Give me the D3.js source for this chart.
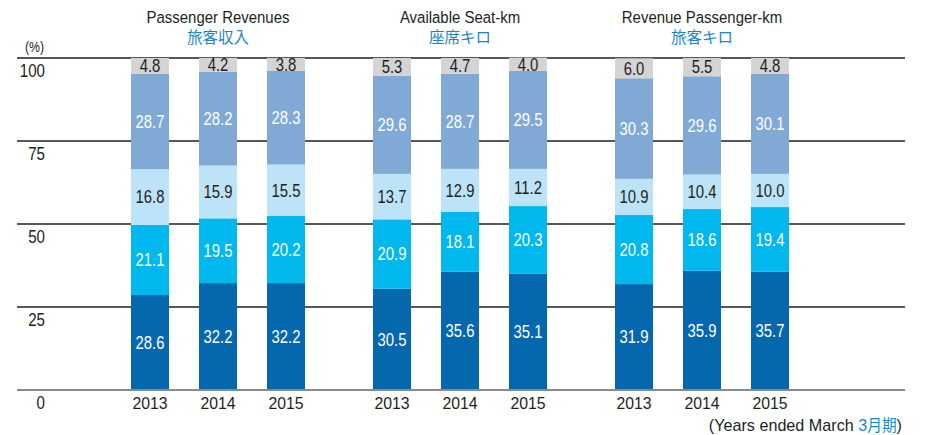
<!DOCTYPE html>
<html>
<head>
<meta charset="utf-8">
<script src="https://cdn.jsdelivr.net/npm/d3@7"></script>
<style>
  body { margin: 0; background: #fff; }
  svg text { font-family: "Liberation Sans", Arial, sans-serif; }
</style>
</head>
<body>
<svg id="chart"></svg>
<script>
// data
const groups = ['Passenger Revenues', 'Available Seat-km', 'Revenue Passenger-km']
const groupsJa = ['旅客収入', '座席キロ', '旅客キロ']
const years = ['2013', '2014', '2015']
const yTicks = [0, 25, 50, 75, 100]

// segments, bottom to top, 3 years per group
const seg1 = [28.6, 32.2, 32.2, 30.5, 35.6, 35.1, 31.9, 35.9, 35.7]
const seg2 = [21.1, 19.5, 20.2, 20.9, 18.1, 20.3, 20.8, 18.6, 19.4]
const seg3 = [16.8, 15.9, 15.5, 13.7, 12.9, 11.2, 10.9, 10.4, 10.0]
const seg4 = [28.7, 28.2, 28.3, 29.6, 28.7, 29.5, 30.3, 29.6, 30.1]
const seg5 = [4.8, 4.2, 3.8, 5.3, 4.7, 4.0, 6.0, 5.5, 4.8]

const segColors = ['#0567ae', '#00b7ee', '#bde3f8', '#80a9d6', '#d4d4d4']
const labelColors = ['#fff', '#fff', '#231f20', '#fff', '#231f20']

const width = 926
const height = 435

const svg = d3.select('#chart')
  .attr('width', width)
  .attr('height', height)

// put text at x,y squeezed horizontally (fake condensed face)
function place(sel, fx, fy, sx) {
  return sel.attr('transform', (d, i) => `translate(${fx(d, i)},${fy(d, i)}) scale(${sx},1)`)
}

// rows for stacking
const rows = []
groups.forEach((g, gi) => {
  years.forEach((yr, yi) => {
    const i = gi * 3 + yi
    rows.push({ group: g, year: yr, s0: seg1[i], s1: seg2[i], s2: seg3[i], s3: seg4[i], s4: seg5[i] })
  })
})
const keys = ['s0', 's1', 's2', 's3', 's4']
const stacked = d3.stack().keys(keys)(rows)

const y = d3.scaleLinear().domain([0, 100]).range([390, 58])
const x0 = d3.scaleBand().domain(groups).range([97, 823])
const x1 = d3.scaleBand().domain(years).range([0, x0.bandwidth()])
  .paddingInner(0.441).paddingOuter(0.5)
const barMid = d => x0(d.group) + x1(d.year) + x1.bandwidth() / 2

// grid lines
svg.append('g')
  .selectAll('line')
  .data(yTicks.filter(d => d > 0))
  .enter()
  .append('line')
  .attr('x1', 17).attr('x2', 905)
  .attr('y1', d => y(d)).attr('y2', d => y(d))
  .attr('stroke', '#231f20')
  .attr('stroke-width', 1.3)

// y tick labels, below each line
place(svg.append('g')
  .selectAll('text')
  .data(yTicks)
  .enter()
  .append('text'), () => 45, d => y(d) + 18.5, 0.84)
  .attr('text-anchor', 'end')
  .attr('fill', '#231f20')
  .style('font-size', '18px')
  .text(d => d)

place(svg.append('text').datum(0), () => 25, () => 52, 0.88)
  .attr('fill', '#231f20')
  .style('font-size', '14px')
  .text('(%)')

// bars
const layers = svg.append('g')
  .selectAll('g')
  .data(stacked)
  .enter()
  .append('g')

layers.selectAll('rect')
  .data(d => d)
  .enter()
  .append('rect')
  .attr('x', d => x0(d.data.group) + x1(d.data.year))
  .attr('width', x1.bandwidth())
  .attr('y', d => y(d[1]))
  .attr('height', d => y(d[0]) - y(d[1]))
  .attr('fill', function () { return segColors[d3.select(this.parentNode).datum().index] })

place(layers.selectAll('text')
  .data(d => d.map(v => ({ v, key: d.key, idx: d.index })))
  .enter()
  .append('text'), d => barMid(d.v.data), d => (y(d.v[0]) + y(d.v[1])) / 2 + 6.3, 0.85)
  .attr('text-anchor', 'middle')
  .attr('fill', d => labelColors[d.idx])
  .style('font-size', '17.5px')
  .text(d => d.v.data[d.key].toFixed(1))

// baseline
svg.append('line')
  .attr('x1', 17).attr('x2', 905)
  .attr('y1', y(0)).attr('y2', y(0))
  .attr('stroke', '#8a8a8a')
  .attr('stroke-width', 2)

// year labels
place(svg.append('g')
  .selectAll('text')
  .data(rows)
  .enter()
  .append('text'), d => barMid(d), () => 408.5, 0.93)
  .attr('text-anchor', 'middle')
  .attr('fill', '#231f20')
  .style('font-size', '17px')
  .text(d => d.year)

// group titles
const titles = svg.append('g')
  .selectAll('g')
  .data(groups)
  .enter()
  .append('g')
  .attr('transform', d => `translate(${x0(d) + x0.bandwidth() / 2},0)`)

place(titles.append('text'), () => 0, () => 23, 0.88)
  .attr('text-anchor', 'middle')
  .attr('fill', '#231f20')
  .style('font-size', '17px')
  .text(d => d)

titles.append('text')
  .attr('y', 43)
  .attr('text-anchor', 'middle')
  .attr('fill', '#1a86c8')
  .style('font-family', '"Noto Sans CJK JP", sans-serif')
  .style('font-size', '15.5px')
  .text((d, i) => groupsJa[i])

// footnote
const note = place(svg.append('text').datum(0), () => 902, () => 431, 0.95)
  .attr('text-anchor', 'end')
  .attr('fill', '#231f20')
  .style('font-size', '17px')
note.append('tspan').text('(Years ended March ')
note.append('tspan').attr('fill', '#1a86c8').text('3')
note.append('tspan').attr('fill', '#1a86c8')
  .style('font-family', '"Noto Sans CJK JP", sans-serif')
  .style('font-size', '15.5px')
  .text('月期')
note.append('tspan').text(')')
</script>
</body>
</html>
